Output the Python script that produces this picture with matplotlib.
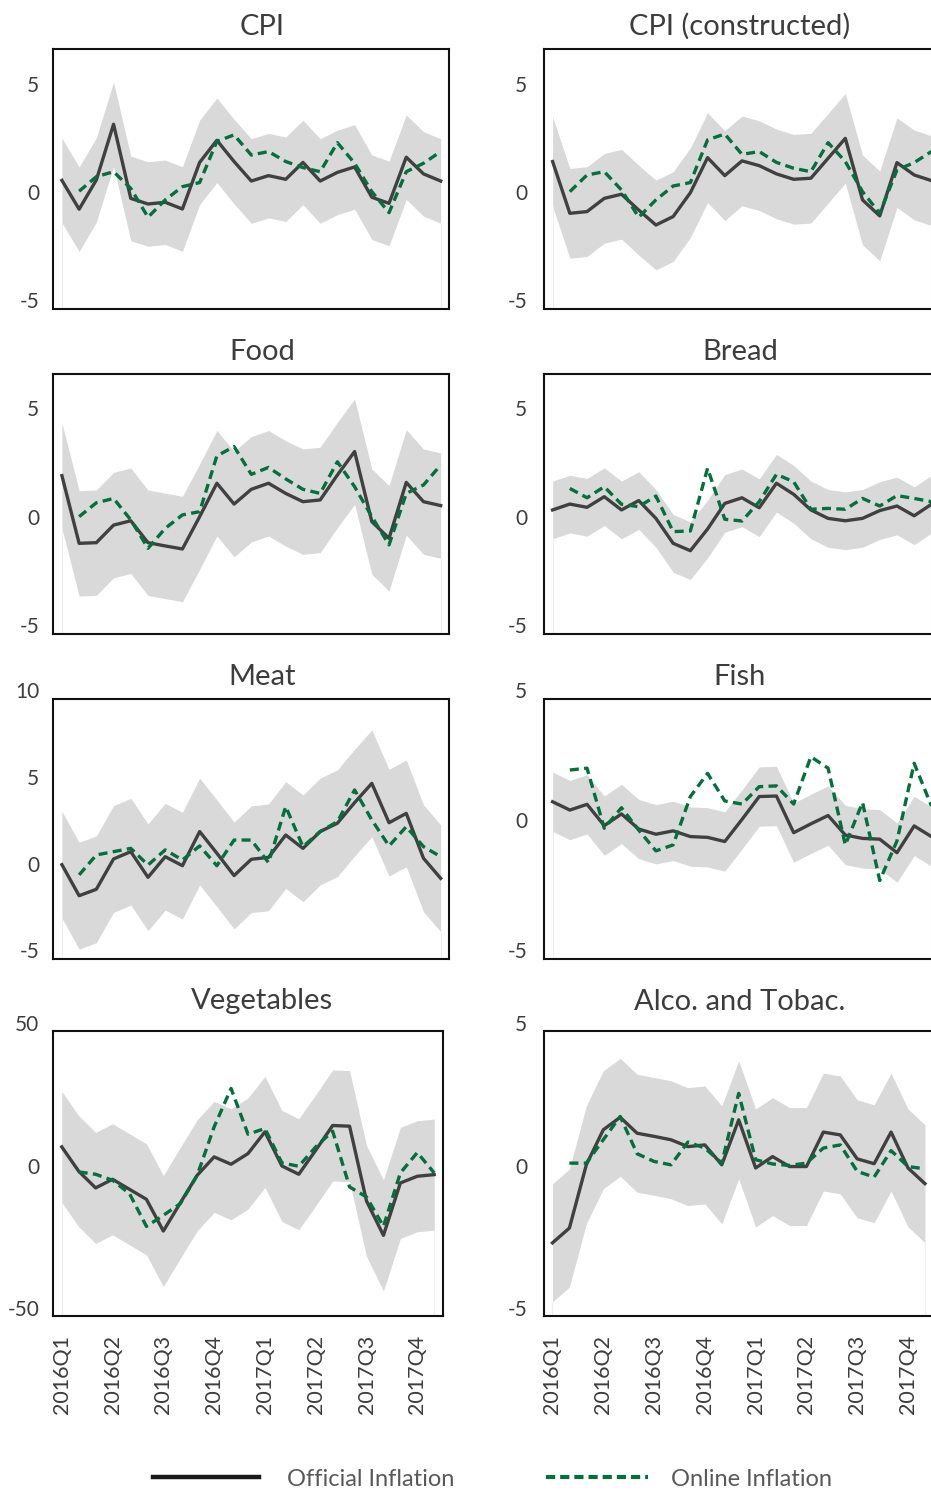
import numpy as np
import matplotlib.pyplot as plt
from matplotlib.lines import Line2D
from matplotlib.transforms import ScaledTranslation

plt.rcParams['font.family'] = ['Lato', 'DejaVu Sans']

nan = np.nan
months = np.arange(23)  # 2016-01 ... 2017-11
quarter_pos = [0, 3, 6, 9, 12, 15, 18, 21]
quarter_labels = ['2016Q1', '2016Q2', '2016Q3', '2016Q4',
                  '2017Q1', '2017Q2', '2017Q3', '2017Q4']

titles = ['CPI', 'CPI (constructed)', 'Food', 'Bread',
          'Meat', 'Fish', 'Vegetables', 'Alco. and Tobac.']

# official inflation (solid) and online inflation (dashed), monthly
cpi_off = [0.95, -0.38, 0.97, 3.54, 0.12, -0.14, -0.06, -0.37, 1.78, 2.80, 1.82, 0.92,
           1.17, 1.00, 1.78, 0.92, 1.32, 1.57, 0.17, -0.11, 2.02, 1.25, 0.92]
cpi_onl = [nan, 0.45, 1.12, 1.35, 0.58, -0.75, 0.05, 0.66, 0.85, 2.75, 3.05, 2.12,
           2.28, 1.82, 1.54, 1.35, 2.69, 1.74, 0.43, -0.54, 1.35, 1.74, 2.28]

cpic_off = [1.82, -0.57, -0.49, 0.12, 0.31, -0.42, -1.11, -0.72, 0.38, 2.00, 1.17, 1.85,
            1.63, 1.25, 1.00, 1.05, 1.97, 2.89, 0.05, -0.69, 1.77, 1.20, 0.94]
cpic_onl = [nan, 0.43, 1.20, 1.35, 0.51, -0.75, 0.05, 0.69, 0.85, 2.82, 3.09, 2.15,
            2.28, 1.78, 1.51, 1.35, 2.69, 1.82, 0.43, -0.57, 1.43, 1.77, 2.28]

food_off = [2.30, -0.82, -0.79, 0.02, 0.22, -0.79, -0.94, -1.08, 0.41, 1.95, 0.99, 1.67,
            1.95, 1.48, 1.10, 1.18, 2.33, 3.41, 0.18, -0.59, 1.99, 1.10, 0.92]
food_onl = [nan, 0.41, 1.05, 1.25, 0.26, -1.05, -0.13, 0.49, 0.64, 3.21, 3.64, 2.36,
            2.68, 2.15, 1.67, 1.48, 2.94, 1.79, 0.41, -0.89, 1.48, 1.87, 2.79]

bread_off = [0.72, 0.99, 0.84, 1.33, 0.72, 1.15, 0.33, -0.82, -1.16, -0.16, 1.02, 1.28,
             0.82, 1.95, 1.44, 0.72, 0.33, 0.22, 0.33, 0.69, 0.90, 0.45, 0.98]
bread_onl = [nan, 1.71, 1.28, 1.79, 0.98, 0.87, 1.36, -0.28, -0.25, 2.64, 0.29, 0.21,
             1.10, 2.36, 2.02, 0.75, 0.79, 0.75, 1.25, 0.90, 1.38, 1.25, 1.10]

meat_off = [0.46, -1.33, -0.96, 0.79, 1.21, -0.27, 0.92, 0.40, 2.37, 1.12, -0.17, 0.77,
            0.88, 2.17, 1.40, 2.37, 2.85, 4.04, 5.15, 2.88, 3.42, 0.83, -0.33]
meat_onl = [nan, -0.13, 1.02, 1.21, 1.40, 0.44, 1.31, 0.73, 1.54, 0.40, 1.88, 1.88,
            0.58, 3.81, 1.50, 2.37, 2.94, 4.77, 3.04, 1.54, 2.65, 1.50, 0.92]

fish_off = [1.06, 0.74, 0.96, 0.14, 0.59, 0.01, -0.19, -0.06, -0.28, -0.31, -0.47, 0.38,
            1.26, 1.28, -0.13, 0.21, 0.53, -0.22, -0.35, -0.38, -0.90, 0.13, -0.28]
fish_onl = [nan, 2.28, 2.35, 0.04, 0.83, -0.03, -0.83, -0.60, 1.26, 2.15, 1.09, 0.97,
            1.64, 1.67, 0.97, 2.79, 2.35, -0.60, 1.03, -1.97, -0.45, 2.54, 0.90]

veg_off = [9.2, 0.65, -5.2, -2.17, -5.69, -9.2, -20.34, -10.49, -0.76, 5.69, 3.11, 6.86,
           14.48, 2.52, -0.41, 8.03, 16.71, 16.47, -9.79, -21.86, -3.46, -1.11, -0.53]
veg_onl = [nan, 0.41, -0.41, -2.52, -7.21, -18.7, -14.83, -10.73, -0.76, 16.24, 29.72, 13.66,
           15.65, 3.58, 2.4, 9.2, 14.71, -4.86, -8.38, -18.7, 0.06, 7.21, 0.06]

alco_off = [-2.45, -1.93, 0.29, 1.52, 1.96, 1.40, 1.29, 1.17, 0.93, 0.99, 0.29, 1.87,
            0.18, 0.58, 0.23, 0.23, 1.44, 1.34, 0.50, 0.33, 1.44, 0.18, -0.37]
alco_onl = [nan, 0.35, 0.35, 1.17, 1.99, 0.68, 0.41, 0.29, 1.09, 0.88, 0.35, 2.80,
            0.47, 0.32, 0.27, 0.35, 0.88, 0.99, 0.06, -0.14, 0.79, 0.23, 0.15]

official = [cpi_off, cpic_off, food_off, bread_off, meat_off, fish_off, veg_off, alco_off]
online = [cpi_onl, cpic_onl, food_onl, bread_onl, meat_onl, fish_onl, veg_onl, alco_onl]

# half-width of the shaded band around official inflation
band_hw = [1.95, 2.07, 2.43, 1.33, 3.08, 1.14, 19.5, 2.07]

y_limits = [(-5, 7), (-5, 7), (-5, 7), (-5, 7), (-5, 10), (-5, 5), (-50, 50), (-5, 5)]
y_ticks = [[-5, 0, 5], [-5, 0, 5], [-5, 0, 5], [-5, 0, 5],
           [-5, 0, 5, 10], [-5, 0, 5], [-50, 0, 50], [-5, 0, 5]]

# colours
c_off = '#404040'
c_onl = '#00703c'
c_band = '#d9d9d9'
c_text = '#3d3d3d'

W, H = 931, 1490
fig = plt.figure(figsize=(W / 100, H / 100), dpi=100)


def box(left, top, width, height):
    return [left / W, 1 - (top + height) / H, width / W, height / H]


rows = [(49.3, 260.0), (373.7, 260.3), (699.3, 260.0), (1030.7, 284.8)]
row_w = [396, 396, 396, 389.4]
cols = [53.3, 544.0]
title_x = [262, 740]
title_base = [35, 360, 685, 1009.5]
label_lift = [9, 9, 9, 7.5]  # px the y labels sit above their tick value

for k in range(8):
    r, c = divmod(k, 2)
    ax = fig.add_axes(box(cols[c], rows[r][0], row_w[r], rows[r][1]))
    off = np.array(official[k])
    onl = np.array(online[k], dtype=float)
    hw = band_hw[k]
    lo, hi = y_limits[k]

    ax.fill_between(months, off - hw, off + hw, color=c_band, lw=0)
    ax.vlines([months[0], months[-1]], lo, [off[0] - hw, off[-1] - hw],
              color='#eeeeee', lw=0.8)
    ax.plot(months, off, color=c_off, lw=2.4)
    ax.plot(months, onl, color=c_onl, lw=2.4, dashes=(2.7, 1.6))

    ax.set_xlim(-0.5, 22.5)
    ax.set_ylim(lo, hi)
    ax.set_yticks(y_ticks[k])
    ax.set_yticklabels([str(t) for t in y_ticks[k]])
    ax.set_xticks(quarter_pos)
    if r == 3:
        ax.set_xticklabels(quarter_labels, rotation=90, fontsize=15.5, color=c_text)
    else:
        ax.set_xticklabels([])
    ax.tick_params(axis='x', length=0, pad=14)
    ax.tick_params(axis='y', length=0, pad=10 if c == 0 else 12,
                   labelsize=15, labelcolor=c_text)
    lift = ScaledTranslation(0, label_lift[r] / 100, fig.dpi_scale_trans)
    for lab in ax.get_yticklabels():
        lab.set_transform(lab.get_transform() + lift)
    for sp in ax.spines.values():
        sp.set_linewidth(1.5)
        sp.set_color('#111111')

    fig.text(title_x[c] / W, 1 - title_base[r] / H, titles[k], ha='center',
             va='baseline', fontsize=21, color=c_text)

# legend along the bottom
ly = 1 - 1477 / H
fig.add_artist(Line2D([153 / W, 259 / W], [ly, ly], color='#1a1a1a', lw=3.2,
                      transform=fig.transFigure))
fig.add_artist(Line2D([546 / W, 648 / W], [ly, ly], color=c_onl, lw=3.0,
                      dashes=(2.2, 1.2), transform=fig.transFigure))
fig.text(287 / W, 1 - 1486 / H, 'Official Inflation', fontsize=17,
         color='#595959', va='baseline')
fig.text(671 / W, 1 - 1486 / H, 'Online Inflation', fontsize=17,
         color='#595959', va='baseline')

fig.savefig('out.png', dpi=100)
